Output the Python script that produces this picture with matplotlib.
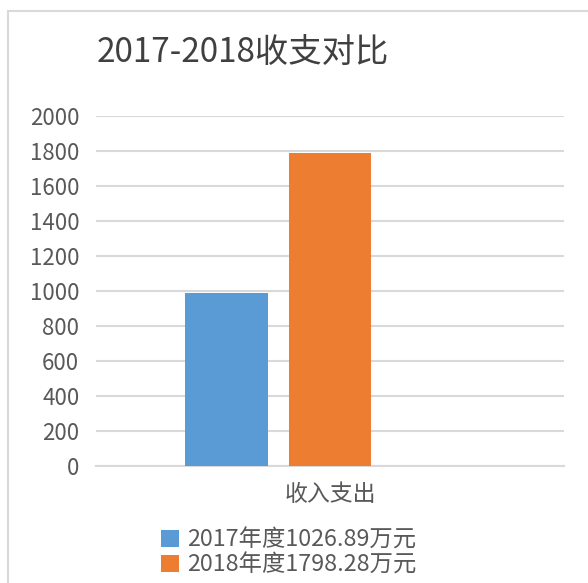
import matplotlib
matplotlib.use('Agg')
import matplotlib.pyplot as plt
from matplotlib.patches import Rectangle, Patch

plt.rcParams['font.family'] = ['Noto Sans CJK SC', 'DejaVu Sans']

# 数据
title = '2017-2018收支对比'
category = '收入支出'
series_names = ['2017年度1026.89万元', '2018年度1798.28万元']
values = [990, 1785]
colors = ['#5B9BD5', '#ED7D31']
y_ticks = list(range(0, 2001, 200))

W, H = 588, 583
fig = plt.figure(figsize=(W / 100, H / 100), dpi=100)

# 图表外框
fig.patches.append(Rectangle((8 / W, -0.05), 1.2, (H - 11) / H + 0.05,
                             transform=fig.transFigure, fill=False,
                             edgecolor='#D9D9D9', lw=1.5))

ax = fig.add_axes([96 / W, (H - 466) / H, (564 - 96) / W, (466 - 115.5) / H])

bar_w = 0.177
gap = 0.045
# 三个槽位，第三个为空
for i, (v, c) in enumerate(zip(values, colors)):
    ax.bar(0 + (i - 1) * (bar_w + gap), v, width=bar_w, color=c, zorder=3)

ax.set_xlim(-0.5, 0.5)
ax.set_ylim(0, 2000)
ax.set_yticks(y_ticks)
ax.set_yticklabels([str(t) for t in y_ticks], fontsize=16, color='#595959')
ax.set_xticks([0])
ax.set_xticklabels([category], fontsize=16.5, color='#595959')
ax.tick_params(axis='both', length=0)
ax.tick_params(axis='y', pad=12)
ax.tick_params(axis='x', pad=12)
ax.grid(axis='y', color='#D9D9D9', lw=1.5, zorder=0)
for s in ['top', 'right', 'left']:
    ax.spines[s].set_visible(False)
ax.spines['bottom'].set_color('#D9D9D9')
ax.spines['bottom'].set_linewidth(1.5)

fig.text(243 / W, 1 - 52 / H, title, fontsize=24, color='#404040',
         ha='center', va='center')

handles = [Patch(facecolor=c, edgecolor='none') for c in colors]
fig.legend(handles, series_names, loc='upper left',
           bbox_to_anchor=(145 / W, 1 - 512 / H), frameon=False,
           fontsize=16.8, labelcolor='#595959', handlelength=0.75,
           handleheight=0.75, handletextpad=0.35, labelspacing=0.08,
           borderpad=0.2)

fig.savefig('out.png', dpi=100)
